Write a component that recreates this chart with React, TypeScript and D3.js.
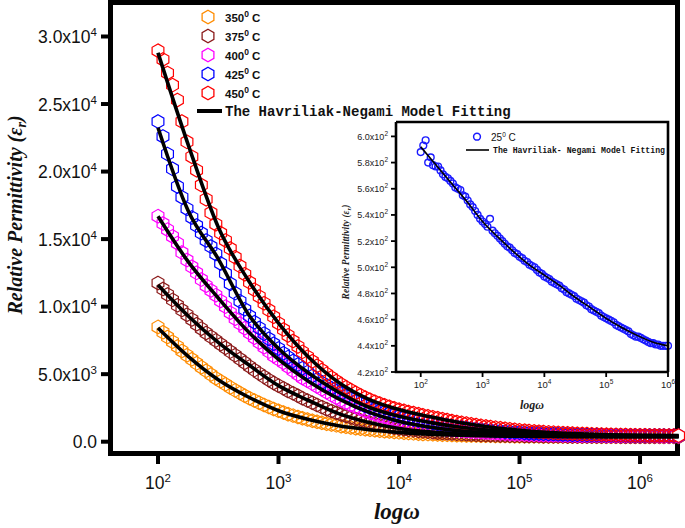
import React from 'react';
import * as d3 from 'd3';

// ---------- data ----------
// measurement frequencies (Hz)
const freqs = [100, 110, 120, 132, 145, 158, 174, 191, 209, 229, 251, 275, 302, 331, 363, 398, 437, 479, 525, 575, 631, 692, 759, 832, 912, 1000,
  1100, 1200, 1320, 1450, 1580, 1740, 1910, 2090, 2290, 2510, 2750, 3020, 3310, 3630, 3980, 4370, 4790, 5250, 5750, 6310, 6920, 7590, 8320, 9120, 10000,
  11000, 12000, 13200, 14500, 15800, 17400, 19100, 20900, 22900, 25100, 27500, 30200, 33100, 36300, 39800, 43700, 47900, 52500, 57500, 63100, 69200, 75900, 83200, 91200, 100000,
  110000, 120000, 132000, 145000, 158000, 174000, 191000, 209000, 229000, 251000, 275000, 302000, 331000, 363000, 398000, 437000, 479000, 525000, 575000, 631000, 692000, 759000, 832000, 912000, 1000000,
  1100000, 1200000, 1320000, 1450000, 1580000, 1740000, 1910000, 2090000];

const eps350 = [8500, 8100, 7750, 7400, 7050, 6720, 6400, 6100, 5800, 5520, 5250, 4970, 4700, 4470, 4250, 4020, 3800, 3600, 3400, 3220, 3050, 2880, 2720, 2570, 2420, 2290,
  2160, 2040, 1930, 1830, 1730, 1640, 1550, 1470, 1400, 1330, 1270, 1210, 1150, 1100, 1050, 1000, 960, 920, 880, 845, 810, 780, 750, 720, 690,
  665, 640, 617, 595, 577, 560, 545, 530, 517, 505, 495, 485, 476, 467, 459, 452, 445, 439, 433, 428, 423, 418, 414, 410, 406,
  403, 400, 397, 394, 392, 390, 388, 386, 384, 382, 381, 379, 378, 376, 375, 374, 373, 372, 371, 370, 369, 368, 367, 366, 366,
  365, 365, 364, 364, 363, 363, 362, 362];
const eps375 = [11750, 11300, 10900, 10500, 10100, 9750, 9400, 9050, 8700, 8370, 8050, 7770, 7500, 7220, 6950, 6670, 6400, 6120, 5850, 5570, 5300, 5050, 4800, 4570, 4350, 4150,
  3950, 3760, 3580, 3400, 3220, 3050, 2880, 2720, 2560, 2410, 2270, 2140, 2010, 1900, 1790, 1680, 1580, 1490, 1400, 1320, 1240, 1170, 1100, 1040, 980,
  930, 880, 840, 800, 765, 730, 700, 670, 645, 620, 600, 580, 562, 545, 530, 515, 502, 490, 480, 470, 461, 452, 445, 438, 432,
  426, 421, 416, 412, 408, 404, 401, 398, 395, 392, 390, 388, 386, 384, 382, 380, 379, 377, 376, 375, 374, 373, 372, 371, 370,
  369, 368, 368, 367, 366, 366, 365, 365];
const eps400 = [16700, 16150, 15700, 15200, 14700, 14000, 13450, 12950, 12500, 12000, 11550, 11200, 10850, 10420, 10000, 9550, 9100, 8750, 8400, 8050, 7700, 7350, 7000, 6670, 6350, 6100,
  5850, 5550, 5250, 4980, 4720, 4510, 4300, 4090, 3880, 3660, 3450, 3260, 3070, 2890, 2720, 2570, 2420, 2280, 2150, 2030, 1920, 1820, 1720, 1620, 1520,
  1440, 1360, 1290, 1220, 1160, 1100, 1050, 1000, 955, 910, 872, 835, 802, 770, 742, 715, 690, 665, 643, 622, 603, 585, 570, 555, 542,
  530, 519, 508, 499, 490, 482, 475, 468, 462, 457, 452, 448, 444, 440, 437, 434, 431, 428, 426, 424, 422, 420, 419, 417, 416,
  414, 413, 412, 411, 410, 409, 408, 407];
const eps425 = [23700, 22600, 21300, 20200, 18900, 18100, 17250, 16600, 16000, 15450, 14900, 14450, 13900, 13200, 12450, 11700, 11000, 10400, 9800, 9300, 8850, 8420, 8000, 7620, 7250, 6900,
  6550, 6260, 5980, 5710, 5440, 5150, 4870, 4610, 4370, 4150, 3950, 3760, 3570, 3370, 3170, 2980, 2810, 2650, 2510, 2400, 2290, 2180, 2080, 1980, 1880,
  1800, 1720, 1645, 1570, 1505, 1440, 1380, 1320, 1265, 1210, 1160, 1110, 1065, 1020, 980, 940, 902, 865, 832, 800, 772, 745, 720, 695, 672,
  650, 632, 615, 600, 585, 572, 560, 550, 540, 531, 522, 515, 508, 502, 496, 491, 486, 482, 478, 474, 471, 468, 465, 462, 460,
  458, 456, 454, 452, 450, 448, 446, 445];
const eps450 = [28950, 28300, 27300, 26400, 25300, 23700, 22200, 21100, 20100, 19000, 17950, 16950, 16100, 15450, 14900, 14300, 13650, 13000, 12400, 11800, 11250, 10750, 10250, 9750, 9250, 8770,
  8300, 7870, 7450, 7050, 6650, 6290, 5950, 5620, 5300, 5020, 4750, 4490, 4250, 4030, 3820, 3620, 3430, 3260, 3100, 2960, 2820, 2700, 2580, 2470, 2370,
  2285, 2200, 2120, 2040, 1960, 1880, 1810, 1740, 1670, 1600, 1525, 1450, 1395, 1340, 1285, 1230, 1180, 1130, 1085, 1040, 1000, 960, 920, 880, 848,
  815, 788, 760, 735, 710, 690, 670, 652, 635, 618, 600, 588, 575, 565, 555, 542, 530, 520, 510, 504, 498, 491, 484, 478, 472,
  469, 466, 463, 460, 457, 455, 452, 450];

const fitFreqs = [100, 178, 316, 562, 1000, 1780, 3160, 5620, 10000, 17800, 31600, 56200, 100000, 178000, 316000, 562000, 1000000, 2090000];
const fit350 = [8420, 6320, 4590, 3310, 2290, 1640, 1180, 890, 690, 555, 480, 432, 406, 390, 379, 371, 366, 362];
const fit375 = [11600, 9310, 7360, 5710, 4150, 3050, 2075, 1420, 980, 725, 570, 480, 432, 404, 387, 376, 370, 365];
const fit400 = [16690, 13330, 10640, 8140, 6100, 4460, 3165, 2185, 1520, 1090, 800, 640, 542, 478, 446, 426, 416, 407];
const fit425 = [23250, 17100, 13540, 9440, 6900, 5080, 3665, 2550, 1880, 1430, 1090, 840, 672, 570, 512, 478, 460, 445];
const fit450 = [28800, 22000, 15900, 11950, 8780, 6250, 4380, 3140, 2380, 1860, 1420, 1090, 850, 685, 580, 512, 472, 450];

const seriesNames = ['350', '375', '400', '425', '450'];
const seriesColors = ['#ff8c00', '#8b1a1a', '#ff00ff', '#0000ff', '#ff0000'];
const seriesData = [eps350, eps375, eps400, eps425, eps450];
const seriesFits = [fit350, fit375, fit400, fit425, fit450];

// inset: 25 °C (values on the first 101 frequencies, 100 Hz – 1 MHz)
const inset25 = [588, 593, 597, 580, 584, 578, 577, 577, 574, 571, 569, 568, 566, 564, 561, 560, 559, 555, 554, 551, 548, 546, 543, 540, 537, 535,
  533, 531, 537, 528, 526, 524, 522, 520, 518, 516, 515, 513, 511, 510, 508, 507, 505, 504, 502, 501, 500, 498, 496, 495, 493,
  492, 491, 489, 488, 487, 486, 484, 483, 481, 480, 479, 478, 476, 475, 474, 473, 471, 470, 468, 467, 466, 465, 463, 462, 461,
  460, 459, 458, 456, 455, 454, 453, 452, 451, 449, 448, 447, 447, 446, 445, 444, 443, 442, 442, 441, 441, 440, 440, 440, 440];
const insetFit = [592, 578, 564, 550, 535, 523, 512, 502, 494, 486, 477, 469, 461, 454, 448, 443, 440];

const xTickExps = [2, 3, 4, 5, 6];
const yTicks = [0, 5000, 10000, 15000, 20000, 25000, 30000];
const yTickMant = ['0.0', '5.0x10', '1.0x10', '1.5x10', '2.0x10', '2.5x10', '3.0x10'];
const yTickExp = ['', '3', '4', '4', '4', '4', '4'];
const insetYTicks = [420, 440, 460, 480, 500, 520, 540, 560, 580, 600];
const insetYMant = ['4.2x10', '4.4x10', '4.6x10', '4.8x10', '5.0x10', '5.2x10', '5.4x10', '5.6x10', '5.8x10', '6.0x10'];

// ---------- layout ----------
const SANS = '"Liberation Sans", Arial, sans-serif';
const SERIF = '"Liberation Serif", "Times New Roman", serif';
const MONO = '"Liberation Mono", "Courier New", monospace';

const x = d3.scaleLog().domain([40.36, 2.046e6]).range([110.5, 677.5]);
const y = d3.scaleLinear().domain([-874, 32517]).range([453.5, 2.5]);
const xi = d3.scaleLog().domain([39.8, 1e6]).range([396, 668]);
const yi = d3.scaleLinear().domain([420, 611]).range([372, 122]);

function hexPath(r: number) {
  const pts = d3.range(6).map((i) => {
    const a = (Math.PI / 3) * i - Math.PI / 2;
    return [r * Math.cos(a), r * Math.sin(a)];
  });
  return 'M' + pts.map((p) => p[0].toFixed(2) + ',' + p[1].toFixed(2)).join('L') + 'Z';
}
const HEX = hexPath(6.8);

export default function App() {
  const line = d3.line<[number, number]>().x((d) => x(d[0])).y((d) => y(d[1])).curve(d3.curveMonotoneX);
  const lineI = d3.line<[number, number]>().x((d) => xi(d[0])).y((d) => yi(d[1])).curve(d3.curveMonotoneX);

  return (
    <svg width={685} height={528} style={{ position: 'absolute', left: 0, top: 0, background: '#fff' }}>
      <rect x={0} y={0} width={685} height={528} fill="#fff" />
      {/* main frame */}
      <rect x={110.5} y={2.5} width={567} height={451} fill="none" stroke="#000" strokeWidth={5} />
      {/* markers */}
      {seriesData.map((vals, si) => (
        <g key={'m' + si}>
          {vals.map((v, i) => (
            <path key={i} d={HEX} transform={`translate(${x(freqs[i])},${y(v)})`}
              fill={i === vals.length - 1 && si === 4 ? '#fff' : 'none'} stroke={seriesColors[si]} strokeWidth={1.2} />
          ))}
        </g>
      ))}
      {/* fit lines */}
      {seriesFits.map((vals, si) => (
        <path key={'f' + si} d={line(vals.map((v, i) => [fitFreqs[i], v]))!} fill="none" stroke="#000" strokeWidth={3.6} />
      ))}

      {yTicks.map((t, i) => (
        <g key={'yt' + i}>
          <line x1={101} x2={110.5} y1={y(t)} y2={y(t)} stroke="#000" strokeWidth={4} />
          <text x={97} y={y(t) + 6.5} textAnchor="end" fontFamily={SANS} fontSize={17.5} fill="#111">
            {yTickMant[i]}
            {yTickExp[i] && <tspan dy={-7} fontSize={11.5}>{yTickExp[i]}</tspan>}
          </text>
        </g>
      ))}
      {xTickExps.map((e) => (
        <g key={'xt' + e}>
          <line x1={x(Math.pow(10, e))} x2={x(Math.pow(10, e))} y1={453.5} y2={464} stroke="#000" strokeWidth={4} />
          <text x={x(Math.pow(10, e))} y={489} textAnchor="middle" fontFamily={SANS} fontSize={17.5} fill="#111">
            10<tspan dy={-7} fontSize={11.5}>{e}</tspan>
          </text>
        </g>
      ))}
      <text transform="translate(22,215) rotate(-90)" textAnchor="middle" fontFamily={SERIF} fontStyle="italic" fontWeight="bold" fontSize={20} fill="#111">
        Relative Permittivity (ε<tspan dy={4} fontSize={14}>r</tspan><tspan dy={-4}>)</tspan>
      </text>
      <text x={397} y={519} textAnchor="middle" fontFamily={SERIF} fontStyle="italic" fontWeight="bold" fontSize={23} fill="#111">
        logω
      </text>

      {/* main legend */}
      {seriesNames.map((n, i) => (
        <g key={'lg' + i} transform={`translate(208,${17 + i * 19})`}>
          <path d={HEX} fill="none" stroke={seriesColors[i]} strokeWidth={1.3} />
          <text x={17} y={4.5} fontFamily={SANS} fontWeight="bold" fontSize={11.5} fill="#111">
            {n}<tspan dy={-5} fontSize={8.5}>0</tspan><tspan dy={5}> C</tspan>
          </text>
        </g>
      ))}
      <line x1={197} x2={222} y1={111} y2={111} stroke="#000" strokeWidth={4} />
      <text x={225} y={115.5} fontFamily={MONO} fontWeight="bold" fontSize={14} fill="#111">The Havriliak-Negami Model Fitting</text>

      {/* inset */}
      <rect x={396} y={122} width={272} height={250} fill="#fff" />
      {inset25.map((v, i) => (
        <circle key={'ic' + i} cx={xi(freqs[i])} cy={yi(v)} r={3.4}
          fill={i === inset25.length - 1 ? '#fff' : 'none'} stroke="#1a1aff" strokeWidth={1.4} />
      ))}
      <path d={lineI(insetFit.map((v, i) => [fitFreqs[i], v]))!} fill="none" stroke="#000" strokeWidth={1.6} />
      <path d="M396,122H668V372" fill="none" stroke="#000" strokeWidth={2.6} />
      <path d="M396,122V372H668" fill="none" stroke="#000" strokeWidth={2.6} />
      {insetYTicks.map((t, i) => (
        <g key={'iyt' + i}>
          <line x1={391} x2={396} y1={yi(t)} y2={yi(t)} stroke="#000" strokeWidth={1.8} />
          <text x={388} y={yi(t) + 3.5} textAnchor="end" fontFamily={SANS} fontSize={9} fill="#222">
            {insetYMant[i]}<tspan dy={-4} fontSize={6.5}>2</tspan>
          </text>
        </g>
      ))}
      {xTickExps.map((e) => (
        <g key={'ixt' + e}>
          <line x1={xi(Math.pow(10, e))} x2={xi(Math.pow(10, e))} y1={372} y2={377} stroke="#000" strokeWidth={1.8} />
          <text x={xi(Math.pow(10, e))} y={388} textAnchor="middle" fontFamily={SANS} fontSize={9.5} fill="#222">
            10<tspan dy={-4} fontSize={6.5}>{e}</tspan>
          </text>
        </g>
      ))}
      <text transform="translate(349,252) rotate(-90)" textAnchor="middle" fontFamily={SERIF} fontStyle="italic" fontWeight="bold" fontSize={9.5} fill="#222">
        Relative Permittivity (ε<tspan dy={2} fontSize={7}>r</tspan><tspan dy={-2}>)</tspan>
      </text>
      <text x={532} y={409} textAnchor="middle" fontFamily={SERIF} fontStyle="italic" fontWeight="bold" fontSize={12} fill="#222">
        logω
      </text>
      <circle cx={477} cy={136.7} r={3.4} fill="none" stroke="#1a1aff" strokeWidth={1.5} />
      <text x={491} y={140.5} fontFamily={SANS} fontSize={10} fill="#111">
        25<tspan dy={-4} fontSize={6.5}>0</tspan><tspan dy={4}> C</tspan>
      </text>
      <line x1={466} x2={489} y1={150} y2={150} stroke="#000" strokeWidth={1.6} />
      <text x={493} y={153} fontFamily={MONO} fontWeight="bold" fontSize={8.2} fill="#111">The Havriliak- Negami Model Fitting</text>
    </svg>
  );
}
